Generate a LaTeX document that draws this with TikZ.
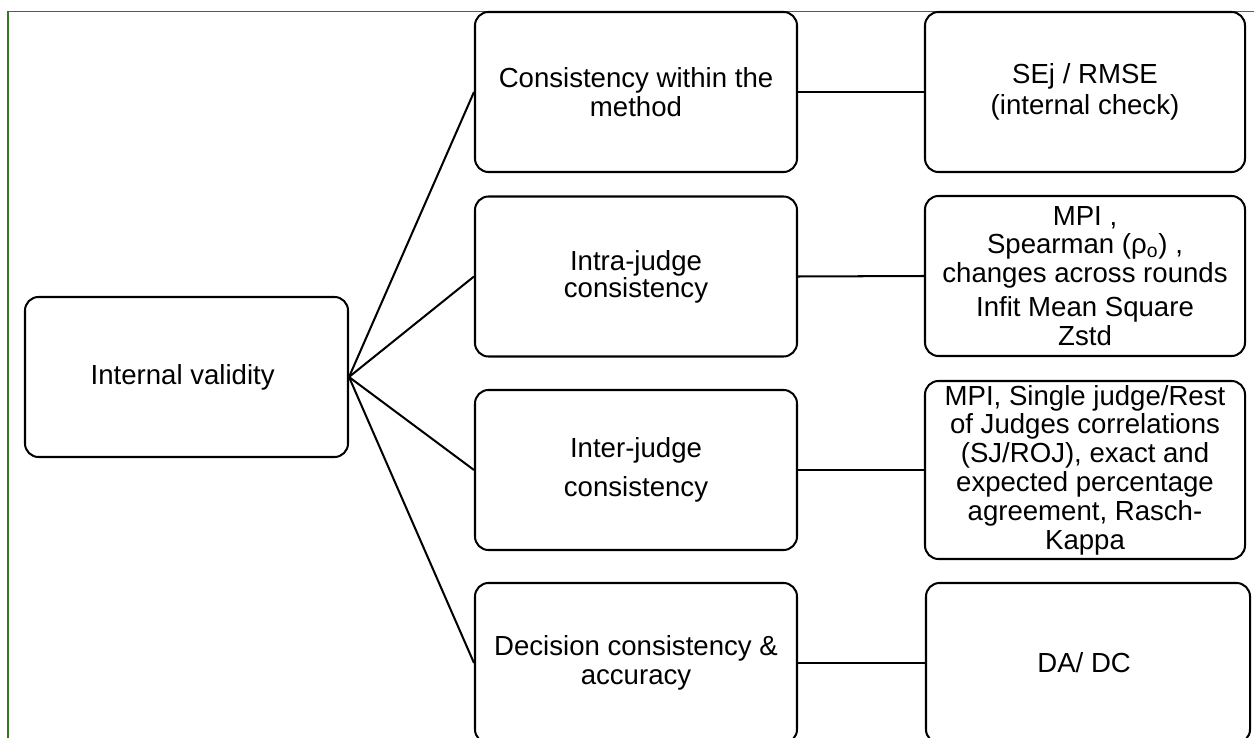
\documentclass[tikz,border=0pt]{standalone}
\usepackage{fontspec}
\setmainfont{Liberation Sans}
\usepackage{tikz}
\definecolor{framegreen}{RGB}{56, 118, 29}

\tikzset{
  box/.style={draw, rounded corners=0.27cm, line width=1.15pt, align=center,
    inner sep=0pt, minimum height=3.2cm,
    font=\fontsize{15.7}{16.4}\selectfont},
  midbox/.style={box, minimum width=6.44cm},
  resbox/.style={box, minimum width=6.4cm},
  link/.style={line width=1.15pt}
}

\begin{document}
\begin{tikzpicture}[scale=1.0]

  \useasboundingbox (0, 0) rectangle (25.08, -14.76);

  \draw[framegreen, line width=1pt] (0.16, -14.8) -- (0.16, -0.23);
  \draw[framegreen, line width=0.6pt] (0.16, -0.23) -- (25.1, -0.23);

  \node[box, minimum width=6.46cm] (root) at (3.73, -7.54) { Internal validity };

  \node[midbox] (mid1) at (12.72, -1.84) { Consistency within the\\method };
  \node[midbox] (mid2) at (12.72, -5.53) { Intra-judge\\[-1pt]consistency };
  \node[midbox] (mid3) at (12.72, -9.40) { Inter-judge\\[5.5pt]consistency };
  \node[midbox] (mid4) at (12.72, -13.26) { Decision consistency \&\\accuracy };

  \node[resbox] (res1) at (21.70, -1.84) { SEj / RMSE\\[1pt](internal check) };
  \node[resbox] (res2) at (21.70, -5.52)
  { MPI ,\\Spearman (ρ\textsubscript{o}) ,\\changes across rounds\\[3pt]Infit Mean Square\\Zstd };
  \node[resbox, minimum height=3.56cm] (res3) at (21.70, -9.40)
  { MPI, Single judge/Rest\\of Judges correlations\\(SJ/ROJ), exact and\\expected percentage\\agreement, Rasch-\\Kappa };
  \node[box, minimum width=6.48cm] (res4) at (21.76, -13.26) { DA/ DC };

  \foreach \i in {1, ..., 4} {
    \draw[link] (root.east) -- (mid\i.west);
    \draw[link] (mid\i.east) -- (res\i.west);
  }

\end{tikzpicture}
\end{document}
